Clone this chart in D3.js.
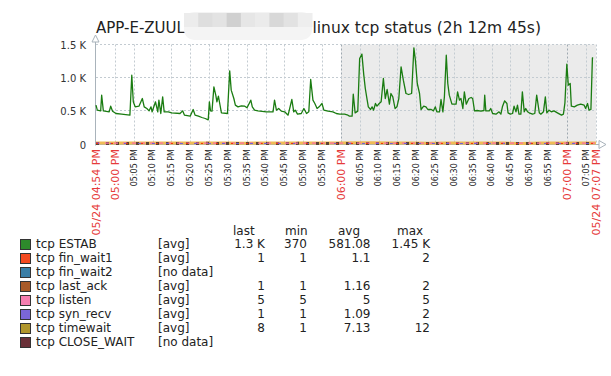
<!DOCTYPE html>
<html><head><meta charset="utf-8">
<script src="https://cdn.jsdelivr.net/npm/d3@7"></script>
<style>body{margin:0;background:#fff} svg{display:block;font-family:"DejaVu Sans",sans-serif}</style>
</head><body><svg id="c" width="611" height="376"></svg>
<script>
// ---------- data ----------
const titleLeft = "APP-E-ZUUL";
const titleRight = "linux tcp status (2h 12m 45s)";
const redactShades = ["#ececec","#dedede","#e3e3e3","#d0d0d0","#e6e6e6","#ebebeb","#d8d8d8","#e2e2e2","#eeeeee"];
const startTime = new Date(2024, 4, 24, 16, 54, 59);
const endTime = new Date(2024, 4, 24, 19, 7, 44);
const shadeFrom = new Date(2024, 4, 24, 18, 0, 0);
const hourTicks = [new Date(2024,4,24,17,0,0), new Date(2024,4,24,18,0,0), new Date(2024,4,24,19,0,0)];
const yTicks = [0, 500, 1000, 1500];
const yTickLabels = ["0", "0.5 K", "1.0 K", "1.5 K"];

// tcp ESTAB: minutes since start, value
const estabMinutes = [0,0.35,1.24,1.5,1.95,3.5,3.9,4.4,5.3,6.8,9.0,9.5,9.9,10.4,11.4,12.3,12.8,13.5,14.1,14.6,14.9,15.8,16.4,16.7,17.2,17.7,18.1,19.2,20.1,22.3,23.0,23.5,25.0,25.8,26.3,27.2,28.1,29.0,29.8,30.1,30.4,30.8,31.3,31.8,32.1,32.5,32.9,33.3,34.9,35.5,35.9,36.6,37.0,37.7,38.6,39.5,40.1,41.1,41.5,42.1,43.0,45.2,47.0,47.4,47.9,48.5,49.2,50.1,51.0,52.0,52.5,52.9,53.5,54.5,55.2,55.9,56.5,57.0,57.6,58.1,58.7,59.4,60.0,60.5,61.6,62.9,63.8,64.7,66.0,66.9,67.3,68.0,68.3,68.8,69.5,70.0,70.6,71.1,71.5,72.0,72.3,72.9,73.3,73.7,74.2,74.6,75.2,75.7,76.3,76.8,77.3,77.9,78.3,78.8,79.4,79.9,80.4,81.0,81.6,82.3,83.0,83.8,84.4,84.8,85.3,85.9,86.3,87.0,87.6,88.1,89.0,89.6,90.1,90.5,91.2,91.6,92.1,92.5,93.0,93.4,93.8,94.5,95.6,96.0,96.5,96.9,97.4,97.8,98.3,99.0,99.6,100.0,100.5,101.2,102.2,103.0,103.2,103.5,104.4,104.8,105.3,106.2,107.0,107.5,107.9,108.5,109.1,109.4,110.0,110.6,111.0,111.5,111.9,112.3,112.8,113.2,113.7,114.1,114.6,115.0,115.9,116.5,117.0,117.7,118.1,118.8,119.3,119.7,120.3,120.9,121.6,122.5,123.6,124.1,124.5,125.0,125.4,125.9,126.2,127.0,127.8,128.7,129.6,130.0,130.5,130.9,131.4,131.8,132.0];
const estabValues = [590,515,505,740,505,490,575,500,465,455,440,1040,640,565,575,690,565,540,505,565,490,640,490,665,465,715,490,490,475,465,505,440,425,525,440,425,405,390,370,640,505,500,865,740,640,725,600,475,465,1105,815,690,590,565,580,575,550,665,565,515,505,490,490,665,515,540,500,490,440,675,490,515,455,465,540,465,490,975,665,615,540,575,615,515,500,490,465,455,455,440,425,425,755,475,500,1290,1355,1040,840,665,565,525,565,515,615,575,615,640,990,690,825,605,765,715,540,565,690,1165,965,765,750,765,1450,1265,915,765,525,575,565,525,525,505,565,490,490,675,490,715,1340,915,740,605,605,790,665,690,540,790,605,690,705,690,505,510,500,510,740,505,505,540,465,455,490,455,565,655,615,475,455,465,575,490,590,455,455,790,490,540,490,475,455,465,740,475,455,490,715,475,515,490,505,475,440,455,625,1205,890,915,575,565,590,605,590,540,615,515,525,1300,1300];

// small series (sampled evenly over the period)
const finWait1Values = [1,1,1,2,1,1,1,1,1,1,2,1,1,1,1,1,1,1,2,1,1,1,1,1,1,1,1,1];
const lastAckValues  = [1,1,2,1,1,1,2,1,1,1,1,2,1,1,1,1,2,1,1,1,1,1,2,1,1,1,1,1];
const listenValues   = [5,5,5,5,5,5,5,5,5,5,5,5,5,5,5,5,5,5,5,5,5,5,5,5,5,5,5,5];
const synRecvValues  = [1,1,1,1,2,1,1,1,1,1,1,1,1,2,1,1,1,1,1,1,1,2,1,1,1,1,1,1];
const timewaitValues = [7,8,6,9,7,8,6,7,5,8,9,7,6,8,10,12,7,6,5,7,8,6,7,1,8,9,7,8];

// legend
const legendNames  = ["tcp ESTAB","tcp fin_wait1","tcp fin_wait2","tcp last_ack","tcp listen","tcp syn_recv","tcp timewait","tcp CLOSE_WAIT"];
const legendColors = ["#2d8a2b","#f44a20","#3a7ea6","#a85a28","#f57eb0","#7a66d8","#b0962c","#6a3038"];
const legendFunc   = ["[avg]","[avg]","[no data]","[avg]","[avg]","[avg]","[avg]","[no data]"];
const legendLast   = ["1.3 K","1","","1","5","1","8",""];
const legendMin    = ["370","1","","1","5","1","1",""];
const legendAvg    = ["581.08","1.1","","1.16","5","1.09","7.13",""];
const legendMax    = ["1.45 K","2","","2","5","2","12",""];
const legendHeader = ["last","min","avg","max"];

// ---------- drawing ----------
const svg = d3.select("#c");
const L = 96, R = 596, T = 44.5, B = 144.5;
const x = d3.scaleTime().domain([startTime, endTime]).range([L, R]);
const y = d3.scaleLinear().domain([0, 1500]).range([B, T]);
const crisp = v => Math.round(v) + 0.5;

// title
svg.append("text").attr("x", 96).attr("y", 33).attr("font-size", 15).attr("fill", "#222").text(titleLeft);
svg.append("text").attr("x", 541).attr("y", 33).attr("font-size", 15.5).attr("fill", "#222").attr("text-anchor", "end").text(titleRight);
const rg = svg.append("g");
rg.append("rect").attr("x", 184).attr("y", 12).attr("width", 128).attr("height", 28).attr("rx", 10).attr("fill", "#f4f4f4");
const cw = 128 / redactShades.length;
rg.selectAll("rect.c").data(redactShades).join("rect").attr("class", "c")
  .attr("x", (d, i) => 184 + i * cw).attr("y", 13).attr("width", cw + 0.5).attr("height", 14)
  .attr("fill", d => d);

// shaded non-working time
svg.append("rect").attr("x", x(shadeFrom)).attr("y", T).attr("width", R - x(shadeFrom)).attr("height", B - T).attr("fill", "#ebebeb");

// grid
const minuteTicks = d3.timeMinute.every(5).range(new Date(2024,4,24,17,0,0), endTime);
const isHour = d => d.getMinutes() === 0;
svg.append("g").selectAll("line").data(minuteTicks).join("line")
  .attr("x1", d => crisp(x(d))).attr("x2", d => crisp(x(d))).attr("y1", T).attr("y2", B)
  .attr("stroke", d => isHour(d) && d > hourTicks[0] ? "#9ea8b0" : "#c3cbd1").attr("stroke-dasharray", "2,2");
svg.append("line").attr("x1", R + 0.5).attr("x2", R + 0.5).attr("y1", T).attr("y2", B).attr("stroke", "#c3cbd1").attr("stroke-dasharray", "2,2");
svg.append("g").selectAll("line").data(yTicks.slice(1)).join("line")
  .attr("x1", L).attr("x2", R).attr("y1", d => crisp(y(d)) - 1).attr("y2", d => crisp(y(d)) - 1)
  .attr("stroke", "#c3cbd1").attr("stroke-dasharray", "2,2");

// y labels
svg.append("g").selectAll("text").data(yTicks).join("text")
  .attr("x", 86).attr("y", d => y(d) + 4).attr("text-anchor", "end").attr("font-size", 10).attr("fill", "#333")
  .text((d, i) => yTickLabels[i]);

// axes
const axisColor = "#a9b3bb";
svg.append("line").attr("x1", 95.5).attr("x2", 95.5).attr("y1", 42).attr("y2", B + 1).attr("stroke", axisColor);
svg.append("path").attr("d", "M92,42 L99,42 L95.5,35 Z").attr("fill", "#fff").attr("stroke", axisColor);
svg.append("line").attr("x1", 95).attr("x2", 599).attr("y1", B).attr("y2", B).attr("stroke", axisColor);
svg.append("path").attr("d", "M599,140.5 L599,148.5 L606,144.5 Z").attr("fill", "#fff").attr("stroke", axisColor);

// small series band
const evenTime = (arr) => arr.map((v, i) => [new Date(+startTime + i * (endTime - startTime) / (arr.length - 1)), v]);
const line = d3.line().x(d => x(d[0])).y(d => y(d[1]) - 1);
const small = [
  {v: timewaitValues, c: "#efbc55", w: 3, dash: null},
  {v: lastAckValues, c: "#5a4434", w: 3, dash: "3,7"},
  {v: listenValues, c: "#FC6EA3", w: 1.2, dash: "4,5"},
  {v: synRecvValues, c: "#6C59DC", w: 1, dash: "3,11"},
  {v: finWait1Values, c: "#F63100", w: 1, dash: "2,13"}
];
small.forEach(s => {
  svg.append("path").attr("d", line(evenTime(s.v))).attr("fill", "none").attr("stroke", s.c)
    .attr("stroke-width", s.w).attr("stroke-dasharray", s.dash);
});

// ESTAB line
const estab = estabMinutes.map((m, i) => [new Date(+startTime + m * 60000), estabValues[i]]);
svg.append("path").attr("d", d3.line().x(d => x(d[0])).y(d => y(d[1]))(estab))
  .attr("fill", "none").attr("stroke", "#1A7C11").attr("stroke-width", 1.3).attr("stroke-linejoin", "round");

// x labels
const fmt = d3.timeFormat("%I:%M %p");
const fmtFull = d3.timeFormat("%m/%d %I:%M %p");
const red = "#e63b3b";
const xl = svg.append("g");
function xlabel(t, txt, color, size) {
  xl.append("text").attr("transform", `translate(${x(t)},149) rotate(-90)`)
    .attr("dy", "0.36em").attr("text-anchor", "end").attr("font-size", size).attr("fill", color).text(txt);
}
minuteTicks.forEach(t => {
  if (isHour(t)) xlabel(t, fmt(t), red, 11);
  else xlabel(t, fmt(t), "#222", 8);
});
xlabel(startTime, fmtFull(startTime), red, 11);
xlabel(endTime, fmtFull(endTime), red, 11);

// legend
const lg = svg.append("g").attr("font-size", 12).attr("fill", "#222");
const hx = [233, 285, 338, 397];
legendHeader.forEach((h, i) => lg.append("text").attr("x", hx[i]).attr("y", 234.5).text(h));
const rightCols = [265, 307, 370.5, 430];
legendNames.forEach((n, i) => {
  const cy = 244.3 + i * 14;
  lg.append("rect").attr("x", 20.5).attr("y", Math.round(cy - 5.5) + 0.5).attr("width", 10).attr("height", 10)
    .attr("fill", legendColors[i]).attr("stroke", "#333");
  lg.append("text").attr("x", 36).attr("y", cy + 4).text(n);
  lg.append("text").attr("x", 158).attr("y", cy + 4).text(legendFunc[i]);
  [legendLast, legendMin, legendAvg, legendMax].forEach((col, j) => {
    lg.append("text").attr("x", rightCols[j]).attr("y", cy + 4).attr("text-anchor", "end").text(col[i]);
  });
});
</script></body></html>
